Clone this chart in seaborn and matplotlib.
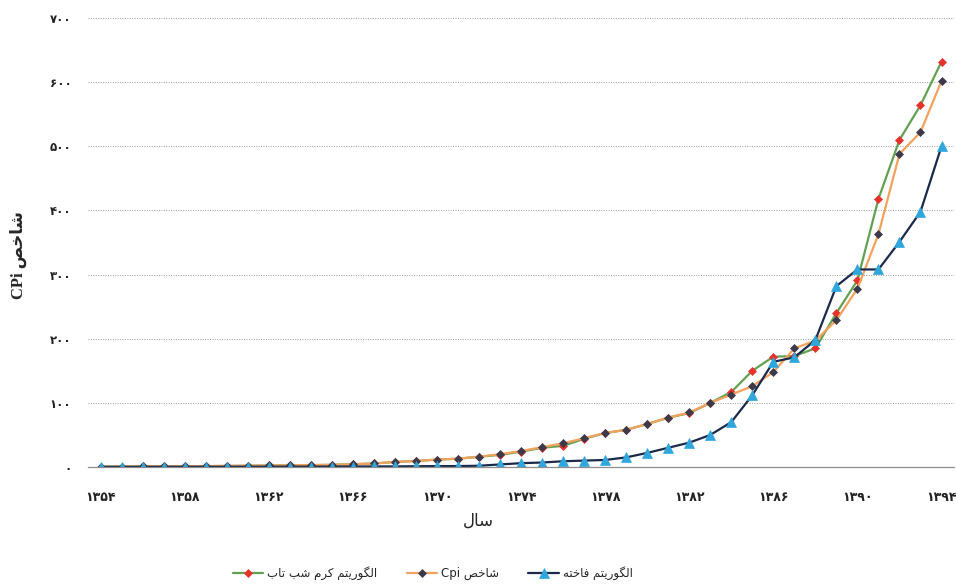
import re
import pandas as pd
from matplotlib import pyplot as plt
import seaborn as sns


# Persian text has to be shaped by hand: matplotlib draws letters one by one, left to right
FORMS = {
    'ا': ('\uFE8D', '\uFE8E', None, None),
    'ب': ('\uFE8F', '\uFE90', '\uFE91', '\uFE92'),
    'ت': ('\uFE95', '\uFE96', '\uFE97', '\uFE98'),
    'خ': ('\uFEA5', '\uFEA6', '\uFEA7', '\uFEA8'),
    'ر': ('\uFEAD', '\uFEAE', None, None),
    'س': ('\uFEB1', '\uFEB2', '\uFEB3', '\uFEB4'),
    'ش': ('\uFEB5', '\uFEB6', '\uFEB7', '\uFEB8'),
    'ص': ('\uFEB9', '\uFEBA', '\uFEBB', '\uFEBC'),
    'ف': ('\uFED1', '\uFED2', '\uFED3', '\uFED4'),
    'ک': ('\uFB8E', '\uFB8F', '\uFB90', '\uFB91'),
    'گ': ('\uFB92', '\uFB93', '\uFB94', '\uFB95'),
    'ل': ('\uFEDD', '\uFEDE', '\uFEDF', '\uFEE0'),
    'م': ('\uFEE1', '\uFEE2', '\uFEE3', '\uFEE4'),
    'ه': ('\uFEE9', '\uFEEA', '\uFEEB', '\uFEEC'),
    'و': ('\uFEED', '\uFEEE', None, None),
    'ی': ('\uFBFC', '\uFBFD', '\uFBFE', '\uFBFF'),
}
RIGHT_ONLY = set('اآدذرزژو')
LTR = r'[A-Za-z0-9\u06F0-\u06F9]'


def shape(text):
    out = []
    for i, ch in enumerate(text):
        if ch not in FORMS:
            out.append(ch)
            continue
        prev = text[i - 1] if i > 0 else ''
        nxt = text[i + 1] if i + 1 < len(text) else ''
        joins_prev = prev in FORMS and prev not in RIGHT_ONLY
        joins_next = ch not in RIGHT_ONLY and nxt in FORMS
        iso, fin, ini, med = FORMS[ch]
        if joins_prev and joins_next:
            out.append(med)
        elif joins_prev:
            out.append(fin)
        elif joins_next:
            out.append(ini)
        else:
            out.append(iso)
    return ''.join(out)


def fa(text):
    runs = re.findall(LTR + '+|[^A-Za-z0-9\u06F0-\u06F9]+', shape(text))
    runs = [r if re.match(LTR, r) else r[::-1] for r in runs]
    return ''.join(runs[::-1])


def fa_digits(n):
    return str(n).translate(str.maketrans('0123456789', '۰۱۲۳۴۵۶۷۸۹'))


years = list(range(1354, 1395))

cpi = [0.7, 0.8, 0.9, 1.0, 1.2, 1.4, 1.7, 2.0, 2.4, 2.7, 3.0, 3.4, 4.3, 5.5,
       7.9, 9.5, 11.5, 13, 16, 20, 25, 31, 37, 45, 53, 58, 67, 77, 85, 100,
       113, 126, 148, 185, 197, 229, 278, 363, 488, 522, 602]

firefly = [0.7, 0.8, 0.9, 1.0, 1.2, 1.4, 1.7, 2.0, 2.4, 2.7, 3.0, 3.4, 4.3, 5.5,
           7.9, 9.5, 11.5, 13, 16, 19, 24, 30, 33, 44, 53, 58, 67, 77, 84, 100,
           117, 150, 172, 173, 185, 240, 291, 418, 510, 564, 632]

cuckoo = [0.2, 0.2, 0.3, 0.3, 0.3, 0.4, 0.4, 0.5, 0.5, 0.6, 0.6, 0.7, 0.8, 0.9,
          1.0, 1.2, 1.5, 1.5, 2, 4, 6, 7, 9, 10, 11, 15, 22, 30, 38, 50,
          70, 112, 164, 171, 198, 282, 308, 308, 351, 398, 500]

series_names = ['الگوریتم کرم شب تاب', 'شاخص Cpi', 'الگوریتم فاخته']

data = pd.DataFrame({'year': years, 'firefly': firefly, 'cpi': cpi, 'cuckoo': cuckoo})

sns.set_style('white')
plt.rcParams['font.family'] = ['DejaVu Sans']

fig = plt.figure(figsize=(9.57, 5.87), dpi=100)
ax = fig.add_axes([0.092, 0.2044, 0.905, 0.7649])

styles = [
    ('firefly', '#62A052', 'D', '#E8312A', 4.5),
    ('cpi', '#F2A25C', 'D', '#3C3A4A', 4.5),
    ('cuckoo', '#1B2A4A', '^', '#2FA6DC', 6.5),
]
for (col, line_c, mk, mk_c, ms), name in zip(styles, series_names):
    sns.lineplot(x='year', y=col, data=data, ax=ax, color=line_c, lw=1.6,
                 marker=mk, markersize=ms,
                 markerfacecolor=mk_c, markeredgecolor=mk_c, markeredgewidth=0.5,
                 label=fa(name))

ax.set_xlim(1353.4, 1394.6)
ax.set_ylim(0, 700)
ax.set_xticks(range(1354, 1395, 4))
ax.set_xticklabels([fa_digits(y) for y in range(1354, 1395, 4)], fontsize=9,
                   fontweight='bold', color='#222222')
ax.set_yticks(range(0, 701, 100))
ax.set_yticklabels([fa_digits(v) for v in range(0, 701, 100)], fontsize=8.5,
                   fontweight='bold', color='#222222')
ax.tick_params(axis='both', length=0)
ax.tick_params(axis='x', pad=17)
ax.tick_params(axis='y', pad=12)

ax.grid(axis='y', linestyle=(0, (1, 1.5)), color='#9a9a9a', lw=0.7)
ax.grid(axis='x', visible=False)
for side in ['top', 'right', 'left']:
    ax.spines[side].set_visible(False)
ax.spines['bottom'].set_color('#8c8c8c')
ax.spines['bottom'].set_linewidth(0.9)

ax.set_xlabel('')
ax.set_ylabel('')
fig.text(0.5, 1 - 521 / 587, fa('سال'), ha='center', va='center', fontsize=12)
fig.text(18 / 957, 1 - 255 / 587, fa('شاخص CPi'), rotation=90, ha='center', va='center',
         fontsize=12, fontweight='bold', family=['Liberation Serif', 'DejaVu Sans'])

ax.legend(loc='center', bbox_to_anchor=(0.452, 0.024), bbox_transform=fig.transFigure,
          ncol=3, frameon=False, fontsize=8.5, handlelength=2.6, columnspacing=2.5,
          handletextpad=0.3)

plt.savefig('out.png', dpi=100)
